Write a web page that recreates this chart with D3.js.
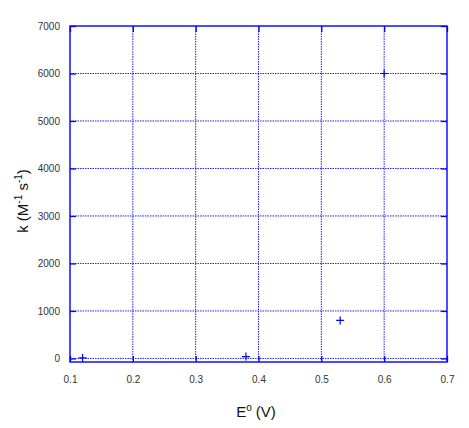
<!DOCTYPE html>
<meta charset="utf-8">
<style>
body { margin: 0; background: #fff; }
.tick text { font: 10px "Liberation Sans", Arial, sans-serif; fill: #333; }
.grid line { stroke: #2020ff; stroke-dasharray: 1.5,1; stroke-width: 1; }
.title { font: 15px "Liberation Sans", Arial, sans-serif; fill: #111; }
</style>
<svg width="469" height="428"></svg>
<script src="https://d3js.org/d3.v7.min.js"></script>
<script>

// measured points
var potential = [0.12, 0.38, 0.53, 0.6];
var rate = [10, 40, 800, 6000];
var xTicks = [0.1, 0.2, 0.3, 0.4, 0.5, 0.6, 0.7];
var yTicks = [0, 1000, 2000, 3000, 4000, 5000, 6000, 7000];

var svg = d3.select("svg"),
    margin = {top: 26, right: 22, bottom: 66, left: 70},
    width = +svg.attr("width") - margin.left - margin.right,
    height = +svg.attr("height") - margin.top - margin.bottom,
    g = svg.append("g").attr("transform", "translate(" + margin.left + "," + margin.top + ")");

var x = d3.scaleLinear().domain([0.1, 0.7]).range([0, width]);
var y = d3.scaleLinear().domain([-75, 7000]).range([height, 0]);

// dotted grid
g.append("g").attr("class", "grid")
  .selectAll("line").data(xTicks.slice(1, -1)).enter().append("line")
    .attr("x1", d => x(d)).attr("x2", d => x(d))
    .attr("y1", 0).attr("y2", height);
g.append("g").attr("class", "grid")
  .selectAll("line").data(yTicks.slice(0, -1)).enter().append("line")
    .attr("x1", 0).attr("x2", width)
    .attr("y1", d => y(d)).attr("y2", d => y(d));

// axes, ticks pointing inward
function style(a) {
  a.select(".domain").remove();
  a.selectAll(".tick line").attr("stroke", "#0000ff").attr("stroke-width", 1.3);
}
g.append("g").attr("transform", "translate(0," + height + ")")
  .call(d3.axisBottom(x).tickValues(xTicks).tickFormat(d3.format(".1f")).tickSize(-6).tickPadding(14))
  .call(style);
g.append("g")
  .call(d3.axisTop(x).tickValues(xTicks).tickSize(-6).tickFormat(""))
  .call(style);
g.append("g")
  .call(d3.axisLeft(y).tickValues(yTicks).tickFormat(d3.format("d")).tickSize(-6).tickPadding(10))
  .call(style);
g.append("g").attr("transform", "translate(" + width + ",0)")
  .call(d3.axisRight(y).tickValues(yTicks).tickSize(-6).tickFormat(""))
  .call(style);

g.selectAll(".tick text").attr("fill", "#333");

// frame
g.append("rect")
  .attr("width", width).attr("height", height)
  .attr("fill", "none").attr("stroke", "#0000ff").attr("stroke-width", 1.4);

// points as crosses
var pts = potential.map((d, i) => [d, rate[i]]);
g.selectAll(".pt").data(pts).enter().append("path")
  .attr("class", "pt")
  .attr("transform", d => "translate(" + x(d[0]) + "," + y(d[1]) + ")")
  .attr("d", "M-4,0H4M0,-4V4")
  .attr("stroke", "#0000ff").attr("stroke-width", 1.2).attr("fill", "none");

// axis titles
var xt = svg.append("text").attr("class", "title")
  .attr("x", 256).attr("y", 417)
  .attr("text-anchor", "middle");
xt.append("tspan").text("E");
xt.append("tspan").attr("dy", -6).attr("font-size", 10).text("o");
xt.append("tspan").attr("dy", 6).text(" (V)");

var yt = svg.append("text").attr("class", "title")
  .attr("transform", "translate(28,201) rotate(-90)")
  .attr("text-anchor", "middle");
yt.append("tspan").text("k (M");
yt.append("tspan").attr("dy", -6).attr("font-size", 10).text("-1");
yt.append("tspan").attr("dy", 6).text(" s");
yt.append("tspan").attr("dy", -6).attr("font-size", 10).text("-1");
yt.append("tspan").attr("dy", 6).text(")");

</script>
